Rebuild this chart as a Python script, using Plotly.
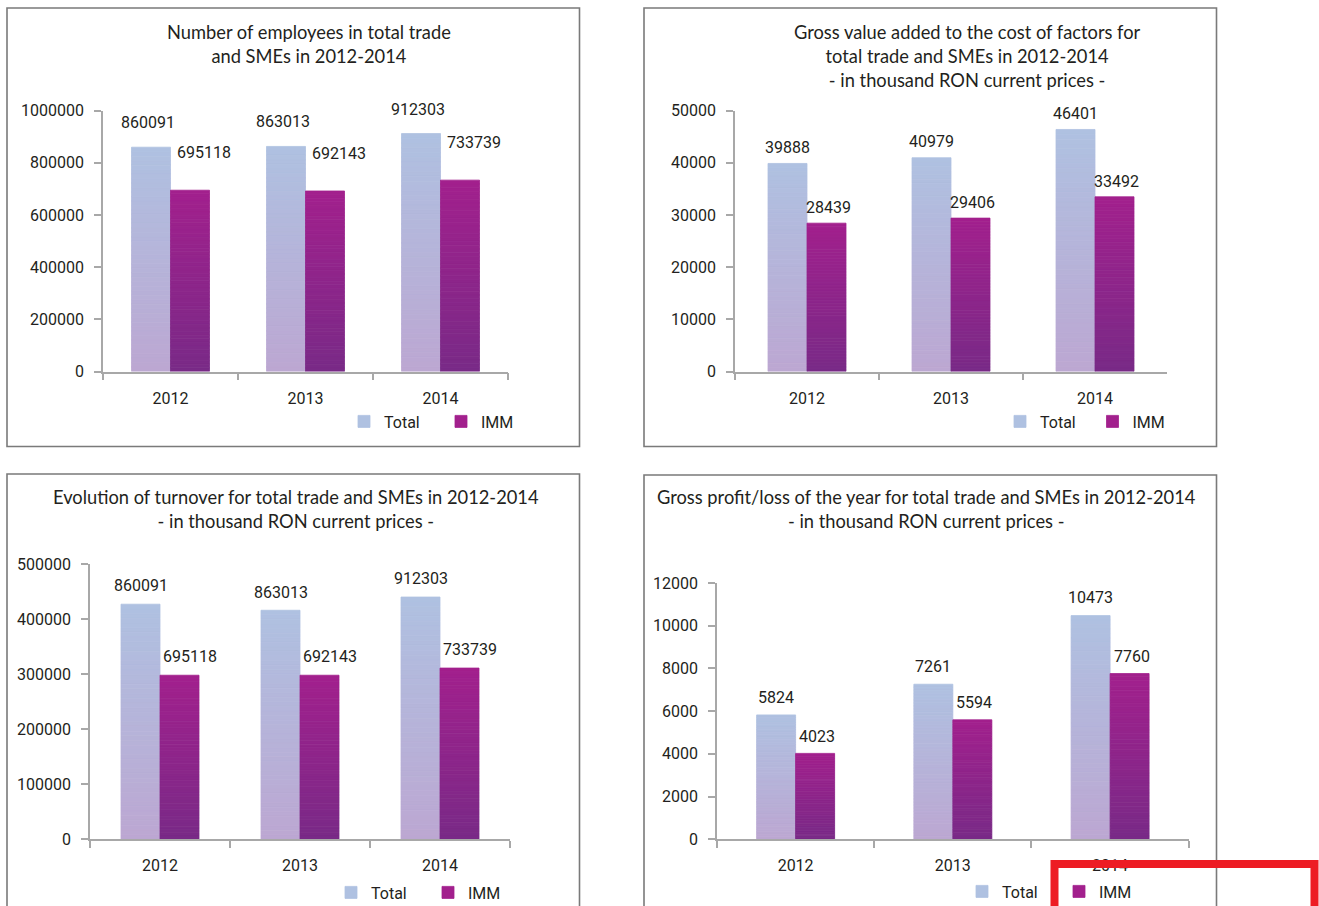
import plotly.graph_objects as go

# ---- data ---------------------------------------------------------------
years = ["2012", "2013", "2014"]

employees_total = [860091, 863013, 912303]
employees_imm = [695118, 692143, 733739]

gva_total = [39888, 40979, 46401]
gva_imm = [28439, 29406, 33492]

turnover_total = [427000, 416000, 440000]
turnover_imm = [298000, 298000, 311000]
turnover_total_labels = ["860091", "863013", "912303"]
turnover_imm_labels = ["695118", "692143", "733739"]

profit_total = [5824, 7261, 10473]
profit_imm = [4023, 5594, 7760]

series_names = ["Total", "IMM"]

# ---- styling ------------------------------------------------------------
W, H = 1319, 906
TEXT = "#231F20"
AXIS = "#A8A8A8"
FRAME = "#7A7A7A"
NUM_FONT = "Roboto, Liberation Sans, sans-serif"
TITLE_FONT = "Lato, Noto Sans, sans-serif"
FS = 16
TITLE_FS = 18.3

TOTAL_TOP, TOTAL_BOTTOM = (175, 193, 225), (188, 167, 210)
IMM_TOP, IMM_BOTTOM = (162, 32, 141), (121, 42, 135)
STEPS = 50          # slices per bar used to shade the vertical gradient
BAR_PX = 39         # bar width in pixels


def fx(p):
    return p / W


def fy(p):
    return 1 - p / H


def mix(c0, c1, t):
    return "rgb(%d,%d,%d)" % tuple(round(a + (b - a) * t) for a, b in zip(c0, c1))


def gradient_bars(name, values, top, bottom, width, offset, suffix):
    """One bar trace per series; each bar is split into stacked slices that
    step from the bottom colour to the top colour."""
    xs, ys, bases, colors = [], [], [], []
    for k in reversed(range(STEPS)):
        t = (k + 0.5) / STEPS
        for cat, v in zip(years, values):
            xs.append(cat)
            ys.append(v / STEPS)
            bases.append(v * k / STEPS)
            colors.append(mix(bottom, top, t))
    return go.Bar(
        name=name, x=xs, y=ys, base=bases,
        marker=dict(color=colors, line=dict(color=colors, width=0.8)),
        width=width, offset=offset,
        xaxis="x" + suffix, yaxis="y" + suffix, legend="legend" + suffix,
        hoverinfo="skip",
    )


def value_labels(values, labels, suffix, dx, dy):
    """Data labels placed above each bar top through the panel's axes
    (x is the category's serial position on the axis)."""
    return [dict(
        text=lab, xref="x" + suffix, yref="y" + suffix, x=i, y=v,
        xanchor="center", yanchor="bottom", xshift=dx, yshift=dy,
        showarrow=False, font=dict(family=NUM_FONT, size=FS, color=TEXT),
    ) for i, (v, lab) in enumerate(zip(values, labels))]


panels = [
    dict(n=1, tot=employees_total, imm=employees_imm,
         ltot=[str(v) for v in employees_total], limm=[str(v) for v in employees_imm],
         x0=103, x1=508, ytop=110.7, yzero=371.5, ymax=1000000, dtick=200000,
         title="Number of employees in total trade<br>and SMEs in 2012-2014",
         tx=308.5, ty=44, legx=344, legy=421.5, entry=52,
         shift_tot=(-3, 13), shift_imm=(14, 26)),
    dict(n=2, tot=gva_total, imm=gva_imm,
         ltot=[str(v) for v in gva_total], limm=[str(v) for v in gva_imm],
         x0=735, x1=1167, ytop=110.7, yzero=371.5, ymax=50000, dtick=10000,
         title="Gross value added to the cost of factors for<br>total trade and SMEs in 2012-2014"
               "<br>- in thousand RON current prices -",
         tx=967.5, ty=56, legx=1000, legy=421.5, entry=47.5,
         shift_tot=(0, 4.3), shift_imm=(2, 3.7)),
    dict(n=3, tot=turnover_total, imm=turnover_imm,
         ltot=turnover_total_labels, limm=turnover_imm_labels,
         x0=90, x1=510, ytop=564, yzero=839.3, ymax=500000, dtick=100000,
         title="Evolution of turnover for total trade and SMEs in 2012-2014"
               "<br>- in thousand RON current prices -",
         tx=296, ty=509, legx=331, legy=892.5, entry=52,
         shift_tot=(0, 6.7), shift_imm=(10, 7.2)),
    dict(n=4, tot=profit_total, imm=profit_imm,
         ltot=[str(v) for v in profit_total], limm=[str(v) for v in profit_imm],
         x0=717, x1=1188.7, ytop=583, yzero=839.3, ymax=12000, dtick=2000,
         title="Gross profit/loss of the year for total trade and SMEs in 2012-2014"
               "<br>- in thousand RON current prices -",
         tx=927, ty=509, legx=962, legy=891.5, entry=52,
         shift_tot=(0, 6.2), shift_imm=(2, 5.7)),
]

fig = go.Figure()
layout = dict(
    width=W, height=H, margin=dict(l=0, r=0, t=0, b=0, autoexpand=False),
    paper_bgcolor="white", plot_bgcolor="white",
    barmode="overlay", showlegend=True,
    font=dict(family=NUM_FONT, size=FS, color=TEXT),
    annotations=[], shapes=[],
)

tick_font = dict(family=NUM_FONT, size=FS, color=TEXT)

for p in panels:
    n = p["n"]
    suffix = "" if n == 1 else str(n)
    w = BAR_PX / ((p["x1"] - p["x0"]) / len(years))
    fig.add_trace(gradient_bars(series_names[0], p["tot"], TOTAL_TOP, TOTAL_BOTTOM, w, -w, suffix))
    fig.add_trace(gradient_bars(series_names[1], p["imm"], IMM_TOP, IMM_BOTTOM, w, 0, suffix))

    dx, dy = p["shift_tot"]
    layout["annotations"] += value_labels(p["tot"], p["ltot"], suffix, dx - BAR_PX / 2, dy)
    dx, dy = p["shift_imm"]
    layout["annotations"] += value_labels(p["imm"], p["limm"], suffix, dx + BAR_PX / 2, dy)

    layout["xaxis" + suffix] = dict(
        domain=[fx(p["x0"]), fx(p["x1"])], anchor="y" + suffix,
        type="category", range=[-0.5, len(years) - 0.5],
        showline=True, linecolor=AXIS, linewidth=1.6,
        ticks="outside", tickson="boundaries", ticklen=7, tickwidth=1.6, tickcolor=AXIS,
        showgrid=False, zeroline=False, tickfont=tick_font, ticklabelstandoff=11,
        fixedrange=True,
    )
    layout["yaxis" + suffix] = dict(
        domain=[fy(p["yzero"]), fy(p["ytop"])], anchor="x" + suffix,
        range=[0, p["ymax"]], tick0=0, dtick=p["dtick"], tickformat="d",
        showline=True, linecolor=AXIS, linewidth=1.6,
        ticks="outside", ticklen=7, tickwidth=1.6, tickcolor=AXIS,
        showgrid=False, zeroline=False, tickfont=tick_font, ticklabelstandoff=7,
        fixedrange=True,
    )
    layout["legend" + suffix] = dict(
        orientation="h", x=fx(p["legx"]), xanchor="left",
        y=fy(p["legy"]), yanchor="middle",
        bgcolor="rgba(0,0,0,0)", font=dict(family=NUM_FONT, size=FS, color=TEXT),
        entrywidth=p["entry"], entrywidthmode="pixels", traceorder="normal",
        itemclick=False, itemdoubleclick=False,
    )
    layout["annotations"].append(dict(
        text=p["title"], xref="paper", yref="paper",
        x=fx(p["tx"]), y=fy(p["ty"]), xanchor="center", yanchor="middle",
        showarrow=False, align="center",
        font=dict(family=TITLE_FONT, size=TITLE_FS, color=TEXT),
    ))

# panel frames
frames = [(7, 8, 579.5, 446.5), (644, 8, 1216.5, 446.5),
          (7, 474, 579.5, 960), (644, 475, 1216.5, 960)]
for x0, y0, x1, y1 in frames:
    layout["shapes"].append(dict(
        type="rect", xref="paper", yref="paper", layer="below",
        x0=fx(x0), x1=fx(x1), y0=fy(y1), y1=fy(y0),
        line=dict(color=FRAME, width=1.6), fillcolor="rgba(0,0,0,0)",
    ))

# red highlight box at the lower right
layout["shapes"].append(dict(
    type="rect", xref="paper", yref="paper", layer="above",
    x0=fx(1054.5), x1=fx(1314.5), y0=fy(960), y1=fy(864),
    line=dict(color="#ED1C24", width=8), fillcolor="rgba(0,0,0,0)",
))

fig.update_layout(**layout)
fig.write_html("out.html")
